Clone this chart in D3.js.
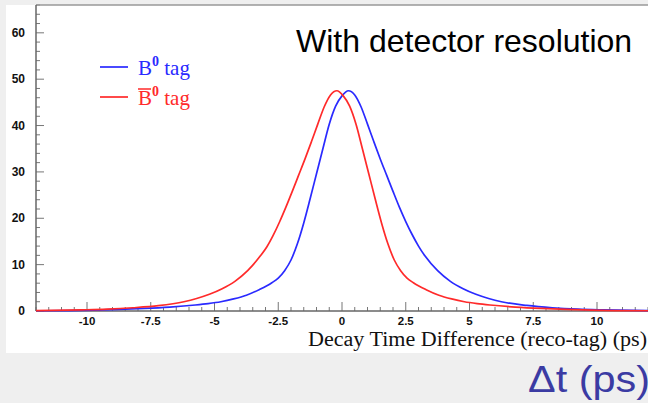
<!DOCTYPE html>
<html>
<head>
<meta charset="utf-8">
<script src="https://cdn.jsdelivr.net/npm/d3@7"></script>
<style>
  html, body { margin: 0; padding: 0; background: #efefef; }
  svg { display: block; }
</style>
</head>
<body>
<svg id="chart"></svg>
<script>
// --------- data -------------------------------
// B0 tag (bleu) : pic vers +0.25 ps
const tB0 = [-12, -9.75, -8.75, -7.75, -6.75, -5.75, -5.25, -4.75, -4.25, -3.75, -3.25, -2.75, -2.5, -2.25, -2, -1.75, -1.5, -1.25, -1, -0.75, -0.5, -0.25, 0, 0.25,
  0.5, 0.75, 1, 1.25, 1.5, 1.75, 2, 2.25, 2.5, 2.75, 3, 3.25, 3.75, 4.25, 4.75, 5.25, 5.75, 6.25, 7.25, 8.25, 9.25, 10.25, 12];
const vB0 = [0.05, 0.2, 0.35, 0.55, 0.85, 1.3, 1.6, 2.0, 2.6, 3.4, 4.6, 6.1, 7.1, 8.7, 11.0, 14.5, 19.0, 24.2, 29.6, 35.0, 40.3, 44.2, 46.4, 47.5,
  46.6, 44.0, 40.3, 36.5, 32.8, 29.3, 25.8, 22.4, 19.3, 16.5, 14.0, 11.9, 8.7, 6.4, 4.8, 3.6, 2.7, 2.0, 1.2, 0.7, 0.4, 0.25, 0.1];

// anti-B0 tag (rouge) : pic vers -0.2 ps
const tB0bar = [-12, -10.2, -9.2, -8.2, -7.2, -6.2, -5.7, -5.2, -4.7, -4.2, -3.7, -3.2, -2.95, -2.7, -2.45, -2.2, -1.95, -1.7, -1.45, -1.2, -0.95, -0.7, -0.45, -0.2,
  0.05, 0.3, 0.55, 0.8, 1.05, 1.3, 1.55, 1.8, 2.05, 2.3, 2.55, 2.8, 3.3, 3.8, 4.3, 4.8, 5.3, 5.8, 6.8, 7.8, 8.8, 9.8, 12];
const vB0bar = [0.1, 0.25, 0.4, 0.7, 1.15, 2.0, 2.7, 3.6, 4.8, 6.4, 8.7, 11.9, 13.8, 16.3, 19.2, 22.4, 25.8, 29.3, 32.8, 36.5, 40.3, 44.0, 46.6, 47.5,
  46.4, 44.2, 40.3, 35.0, 29.6, 24.2, 19.0, 14.5, 11.0, 8.7, 7.1, 6.1, 4.6, 3.4, 2.6, 2.0, 1.6, 1.3, 0.85, 0.55, 0.35, 0.2, 0.05];

const xTickLabels = [-10, -7.5, -5, -2.5, 0, 2.5, 5, 7.5, 10];
const yTickLabels = [0, 10, 20, 30, 40, 50, 60];

const width = 648;
const height = 403;

const svg = d3.select("#chart")
  .attr("width", width)
  .attr("height", height);

// fond gris + panneau blanc
svg.append("rect")
  .attr("x", 0).attr("y", 0)
  .attr("width", width).attr("height", height)
  .attr("fill", "#efefef");

svg.append("rect")
  .attr("x", 6).attr("y", 5)
  .attr("width", width - 6).attr("height", 348)
  .attr("fill", "#ffffff");

// cadre du graphe
const plotLeft = 36, plotTop = 5, plotBottom = 311, plotRight = 648;

const x = d3.scaleLinear().domain([-12, 12]).range([plotLeft, plotRight]);
const y = d3.scaleLinear().domain([0, 66]).range([plotBottom, plotTop]);

// ticks (vers l'intérieur, style ROOT)
const xMinor = d3.range(-12, 12.01, 0.5);
const yMinor = d3.range(0, 66.01, 2);

const g = svg.append("g");

g.selectAll(".xminor")
  .data(xMinor)
  .join("line")
  .attr("x1", d => x(d)).attr("x2", d => x(d))
  .attr("y1", plotBottom).attr("y2", d => xTickLabels.includes(d) ? plotBottom - 9 : plotBottom - 4)
  .attr("stroke", "#777").attr("stroke-width", 1);

g.selectAll(".yminor")
  .data(yMinor)
  .join("line")
  .attr("y1", d => y(d)).attr("y2", d => y(d))
  .attr("x1", plotLeft).attr("x2", d => d % 10 === 0 ? plotLeft + 8 : plotLeft + 4)
  .attr("stroke", "#777").attr("stroke-width", 1);

// lignes d'axes
svg.append("line")
  .attr("x1", plotLeft).attr("x2", plotRight).attr("y1", plotTop).attr("y2", plotTop)
  .attr("stroke", "#999").attr("stroke-width", 1.5);
svg.append("line")
  .attr("x1", plotLeft).attr("x2", plotLeft).attr("y1", plotTop).attr("y2", plotBottom)
  .attr("stroke", "#666").attr("stroke-width", 1.5);
svg.append("line")
  .attr("x1", plotLeft).attr("x2", plotRight).attr("y1", plotBottom).attr("y2", plotBottom)
  .attr("stroke", "#666").attr("stroke-width", 1.5);

// labels des ticks
svg.selectAll(".xlab")
  .data(xTickLabels)
  .join("text")
  .attr("x", d => x(d))
  .attr("y", 325)
  .attr("text-anchor", "middle")
  .attr("font-family", "Liberation Sans, Arial, sans-serif")
  .attr("font-weight", "700")
  .attr("font-size", 11.5)
  .attr("fill", "#111")
  .text(d => d);

svg.selectAll(".ylab")
  .data(yTickLabels)
  .join("text")
  .attr("x", 25)
  .attr("y", d => y(d) + 4)
  .attr("text-anchor", "end")
  .attr("font-family", "Liberation Sans, Arial, sans-serif")
  .attr("font-weight", "700")
  .attr("font-size", 12)
  .attr("fill", "#111")
  .text(d => d);

// courbes
const line = d3.line()
  .x(d => x(d[0]))
  .y(d => y(d[1]))
  .curve(d3.curveMonotoneX);

const blueData = tB0.map((t, i) => [t, vB0[i]]);
const redData = tB0bar.map((t, i) => [t, vB0bar[i]]);

svg.append("clipPath").attr("id", "plotclip")
  .append("rect")
  .attr("x", plotLeft).attr("y", plotTop)
  .attr("width", plotRight - plotLeft).attr("height", plotBottom - plotTop + 2);

svg.append("path")
  .datum(blueData)
  .attr("clip-path", "url(#plotclip)")
  .attr("d", line)
  .attr("fill", "none")
  .attr("stroke", "#2a2aff")
  .attr("stroke-width", 1.7);

svg.append("path")
  .datum(redData)
  .attr("clip-path", "url(#plotclip)")
  .attr("d", line)
  .attr("fill", "none")
  .attr("stroke", "#ff2a2a")
  .attr("stroke-width", 1.7);

// légende
const legend = [
  { color: "#2a2aff", y: 67, bar: false },
  { color: "#ff2a2a", y: 97, bar: true }
];

legend.forEach(item => {
  svg.append("line")
    .attr("x1", 100).attr("x2", 128)
    .attr("y1", item.y).attr("y2", item.y)
    .attr("stroke", item.color).attr("stroke-width", 1.7);

  const t = svg.append("text")
    .attr("x", 138)
    .attr("y", item.y + 8)
    .attr("font-family", "Liberation Serif, Times New Roman, serif")
    .attr("font-size", 21)
    .attr("fill", item.color);
  t.append("tspan").text("B");
  t.append("tspan")
    .attr("dy", -9)
    .attr("font-size", 14)
    .attr("font-weight", "700")
    .text("0");
  t.append("tspan")
    .attr("dy", 9)
    .text(" tag");

  if (item.bar) {
    svg.append("line")
      .attr("x1", 138).attr("x2", 151)
      .attr("y1", item.y - 8).attr("y2", item.y - 8)
      .attr("stroke", item.color).attr("stroke-width", 1.5);
  }
});

// titres
svg.append("text")
  .attr("x", 296)
  .attr("y", 52)
  .attr("font-family", "Liberation Sans, Arial, sans-serif")
  .attr("font-size", 32)
  .attr("fill", "#000")
  .text("With detector resolution");

svg.append("text")
  .attr("x", 308)
  .attr("y", 346)
  .attr("font-family", "Liberation Serif, Times New Roman, serif")
  .attr("font-size", 20)
  .attr("textLength", 339)
  .attr("lengthAdjust", "spacingAndGlyphs")
  .attr("fill", "#111")
  .text("Decay Time Difference (reco-tag) (ps)");

svg.append("text")
  .attr("x", 528)
  .attr("y", 392)
  .attr("font-family", "Liberation Sans, Arial, sans-serif")
  .attr("font-size", 37)
  .attr("textLength", 122)
  .attr("lengthAdjust", "spacingAndGlyphs")
  .attr("fill", "#3b3ba3")
  .text("\u0394t (ps)");
</script>
</body>
</html>
